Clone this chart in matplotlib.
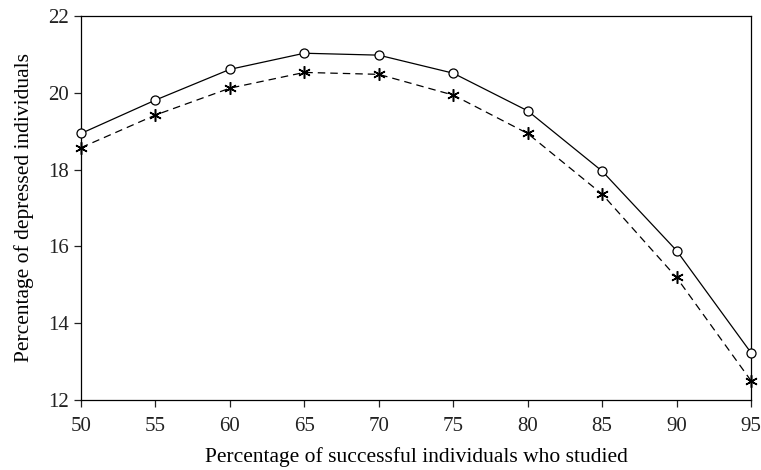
import matplotlib
matplotlib.use('Agg')
from matplotlib import pyplot as plt

# Data
x_studied = [50, 55, 60, 65, 70, 75, 80, 85, 90, 95]
depressed_solid = [18.94, 19.81, 20.61, 21.03, 20.98, 20.51, 19.53, 17.96, 15.89, 13.23]
depressed_dashed = [18.57, 19.42, 20.12, 20.53, 20.48, 19.94, 18.94, 17.36, 15.19, 12.50]
x_ticks = [50, 55, 60, 65, 70, 75, 80, 85, 90, 95]
y_ticks = [12, 14, 16, 18, 20, 22]

plt.rcParams['font.family'] = ['Liberation Serif', 'DejaVu Serif']

fig = plt.figure(figsize=(7.61, 4.70), dpi=100)
ax = fig.add_axes([0.1064, 0.149, 0.8805, 0.817])

#Solid line with open circles
ax.plot(x_studied, depressed_solid, color='black', lw=0.9, ls='-',
        marker='o', markersize=6.5, markerfacecolor='white', markeredgewidth=0.9,
        clip_on=False, zorder=3)

#Dashed line with asterisks
ax.plot(x_studied, depressed_dashed, color='black', lw=0.9, ls=(0, (6, 4)),
        marker=(6, 2, 0), markersize=9, markeredgewidth=1.1,
        clip_on=False, zorder=3)

#Set bounds and ticks
ax.set_xlim(50, 95)
ax.set_ylim(12, 22)
ax.set_xticks(x_ticks)
ax.set_yticks(y_ticks)
ax.tick_params(axis='both', direction='out', length=5, width=0.9,
               labelsize=15, top=False, right=False, colors='#222222')
ax.tick_params(axis='x', pad=7)
for spine in ax.spines.values():
    spine.set_linewidth(0.9)

ax.set_xlabel('Percentage of successful individuals who studied', fontsize=15.5, labelpad=8)
ax.set_ylabel('Percentage of depressed individuals', fontsize=15.5, labelpad=10)

fig.savefig('out.png', dpi=100)
